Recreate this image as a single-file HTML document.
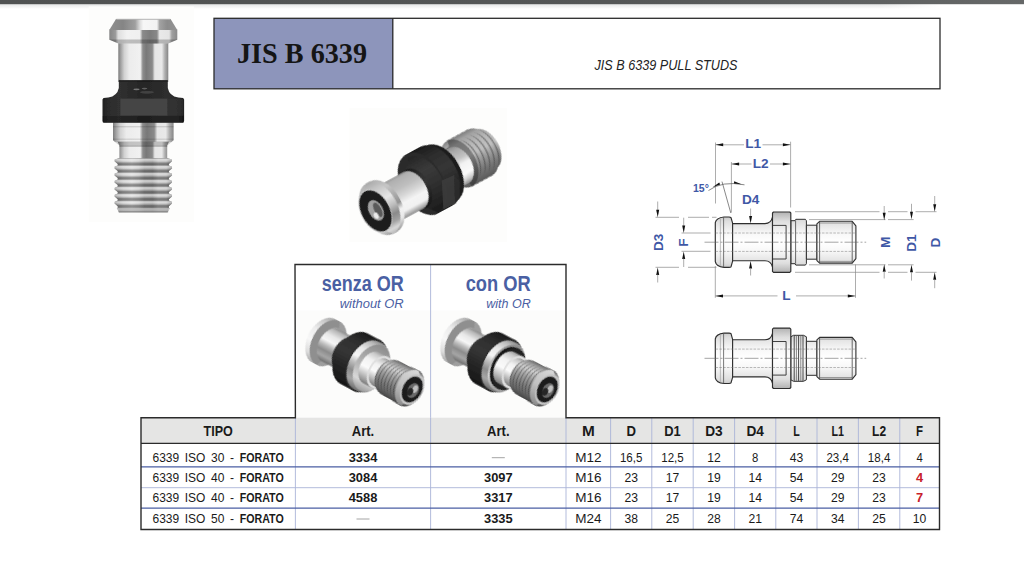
<!DOCTYPE html>
<html><head><meta charset="utf-8"><title>JIS B 6339 Pull Studs</title>
<style>html,body{margin:0;padding:0;background:#fff;overflow:hidden}svg{display:block}</style></head>
<body><svg width="1024" height="577" viewBox="0 0 1024 577">
<rect width="1024" height="577" fill="#ffffff"/>
<defs><linearGradient id="topbar" x1="0" x2="1" y1="0" y2="0"><stop offset="0" stop-color="#505252"/><stop offset="0.6" stop-color="#555757"/><stop offset="1" stop-color="#666868"/></linearGradient><linearGradient id="topsh" x1="0" x2="0" y1="0" y2="1"><stop offset="0" stop-color="#d8dada"/><stop offset="1" stop-color="#ffffff"/></linearGradient></defs>
<rect x="0" y="4" width="880" height="5" fill="url(#topsh)" opacity="0.7"/>
<linearGradient id="topfade" x1="0" x2="1" y1="0" y2="0"><stop offset="0" stop-color="#fff" stop-opacity="0"/><stop offset="1" stop-color="#fff" stop-opacity="1"/></linearGradient>
<rect x="880" y="4" width="60" height="5" fill="url(#topsh)" opacity="0.7"/><rect x="880" y="4" width="60" height="5" fill="url(#topfade)"/>
<rect x="0" y="0" width="1024" height="4.2" fill="url(#topbar)"/>
<rect x="214" y="18.3" width="179" height="70.5" fill="#8d95bb"/>
<rect x="214" y="18.3" width="726" height="70.5" fill="none" stroke="#2b2b2b" stroke-width="1.3"/>
<line x1="392.8" y1="18.3" x2="392.8" y2="88.8" stroke="#2b2b2b" stroke-width="1.3"/>
<text x="302" y="63" font-family="Liberation Serif, serif" font-size="28.5" font-weight="bold" font-style="normal" fill="#151515" text-anchor="middle" textLength="130" lengthAdjust="spacingAndGlyphs" >JIS B 6339</text>
<text x="666" y="69.9" font-family="Liberation Sans, sans-serif" font-size="14" font-weight="normal" font-style="italic" fill="#222" text-anchor="middle" textLength="143" lengthAdjust="spacingAndGlyphs" >JIS B 6339 PULL STUDS</text>
<rect x="296" y="310.5" width="269.5" height="107.2" fill="#fcfcfb"/>
<rect x="141" y="417.7" width="798.5" height="25.600000000000023" fill="#e5e5e4"/>
<line x1="295.4" y1="417.7" x2="295.4" y2="529.5" stroke="#aab4d8" stroke-width="0.9"/>
<line x1="430.6" y1="417.7" x2="430.6" y2="529.5" stroke="#aab4d8" stroke-width="0.9"/>
<line x1="566" y1="417.7" x2="566" y2="529.5" stroke="#aab4d8" stroke-width="0.9"/>
<line x1="610.6" y1="417.7" x2="610.6" y2="529.5" stroke="#aab4d8" stroke-width="0.9"/>
<line x1="651.8" y1="417.7" x2="651.8" y2="529.5" stroke="#aab4d8" stroke-width="0.9"/>
<line x1="693.2" y1="417.7" x2="693.2" y2="529.5" stroke="#aab4d8" stroke-width="0.9"/>
<line x1="734.6" y1="417.7" x2="734.6" y2="529.5" stroke="#aab4d8" stroke-width="0.9"/>
<line x1="775.8" y1="417.7" x2="775.8" y2="529.5" stroke="#aab4d8" stroke-width="0.9"/>
<line x1="817" y1="417.7" x2="817" y2="529.5" stroke="#aab4d8" stroke-width="0.9"/>
<line x1="858.4" y1="417.7" x2="858.4" y2="529.5" stroke="#aab4d8" stroke-width="0.9"/>
<line x1="899.8" y1="417.7" x2="899.8" y2="529.5" stroke="#aab4d8" stroke-width="0.9"/>
<line x1="430.6" y1="264.5" x2="430.6" y2="417.7" stroke="#aab4d8" stroke-width="0.9"/>
<line x1="141" y1="466.9" x2="939.5" y2="466.9" stroke="#4a5ea3" stroke-width="1.3"/>
<line x1="141" y1="487.7" x2="939.5" y2="487.7" stroke="#aab4d8" stroke-width="0.9"/>
<line x1="141" y1="508.2" x2="939.5" y2="508.2" stroke="#4a5ea3" stroke-width="1.3"/>
<line x1="141" y1="443.3" x2="939.5" y2="443.3" stroke="#2b2b2b" stroke-width="1.3"/>
<path d="M295.4 417.7 H141 V529.5 H939.5 V417.7 H566 V264.5 H295.0 Z" fill="none" stroke="#2b2b2b" stroke-width="1.4" stroke-linejoin="miter"/>
<text x="362.8" y="291.4" font-family="Liberation Sans, sans-serif" font-size="21.5" font-weight="bold" font-style="normal" fill="#4a60a3" text-anchor="middle" textLength="82" lengthAdjust="spacingAndGlyphs" >senza OR</text>
<text x="371.7" y="308.1" font-family="Liberation Sans, sans-serif" font-size="12.8" font-weight="normal" font-style="italic" fill="#4a60a3" text-anchor="middle" textLength="64" lengthAdjust="spacingAndGlyphs" >without OR</text>
<text x="498.2" y="291.4" font-family="Liberation Sans, sans-serif" font-size="21.5" font-weight="bold" font-style="normal" fill="#4a60a3" text-anchor="middle" textLength="65" lengthAdjust="spacingAndGlyphs" >con OR</text>
<text x="508.5" y="308.1" font-family="Liberation Sans, sans-serif" font-size="12.8" font-weight="normal" font-style="italic" fill="#4a60a3" text-anchor="middle" textLength="44.5" lengthAdjust="spacingAndGlyphs" >with OR</text>
<text x="218.2" y="435.5" font-family="Liberation Sans, sans-serif" font-size="14" font-weight="bold" font-style="normal" fill="#1a1a1a" text-anchor="middle" textLength="29.3" lengthAdjust="spacingAndGlyphs" >TIPO</text>
<text x="363.0" y="435.5" font-family="Liberation Sans, sans-serif" font-size="14" font-weight="bold" font-style="normal" fill="#1a1a1a" text-anchor="middle" textLength="22.5" lengthAdjust="spacingAndGlyphs" >Art.</text>
<text x="498.3" y="435.5" font-family="Liberation Sans, sans-serif" font-size="14" font-weight="bold" font-style="normal" fill="#1a1a1a" text-anchor="middle" textLength="22.5" lengthAdjust="spacingAndGlyphs" >Art.</text>
<text x="588.3" y="435.5" font-family="Liberation Sans, sans-serif" font-size="14" font-weight="bold" font-style="normal" fill="#1a1a1a" text-anchor="middle" textLength="12.8" lengthAdjust="spacingAndGlyphs" >M</text>
<text x="631.2" y="435.5" font-family="Liberation Sans, sans-serif" font-size="14" font-weight="bold" font-style="normal" fill="#1a1a1a" text-anchor="middle" textLength="9.5" lengthAdjust="spacingAndGlyphs" >D</text>
<text x="672.5" y="435.5" font-family="Liberation Sans, sans-serif" font-size="14" font-weight="bold" font-style="normal" fill="#1a1a1a" text-anchor="middle" textLength="16.5" lengthAdjust="spacingAndGlyphs" >D1</text>
<text x="713.9" y="435.5" font-family="Liberation Sans, sans-serif" font-size="14" font-weight="bold" font-style="normal" fill="#1a1a1a" text-anchor="middle" textLength="17.5" lengthAdjust="spacingAndGlyphs" >D3</text>
<text x="755.2" y="435.5" font-family="Liberation Sans, sans-serif" font-size="14" font-weight="bold" font-style="normal" fill="#1a1a1a" text-anchor="middle" textLength="17.5" lengthAdjust="spacingAndGlyphs" >D4</text>
<text x="796.4" y="435.5" font-family="Liberation Sans, sans-serif" font-size="14" font-weight="bold" font-style="normal" fill="#1a1a1a" text-anchor="middle" textLength="6.5" lengthAdjust="spacingAndGlyphs" >L</text>
<text x="837.7" y="435.5" font-family="Liberation Sans, sans-serif" font-size="14" font-weight="bold" font-style="normal" fill="#1a1a1a" text-anchor="middle" textLength="12.5" lengthAdjust="spacingAndGlyphs" >L1</text>
<text x="879.1" y="435.5" font-family="Liberation Sans, sans-serif" font-size="14" font-weight="bold" font-style="normal" fill="#1a1a1a" text-anchor="middle" textLength="14" lengthAdjust="spacingAndGlyphs" >L2</text>
<text x="919.6" y="435.5" font-family="Liberation Sans, sans-serif" font-size="14" font-weight="bold" font-style="normal" fill="#1a1a1a" text-anchor="middle" textLength="7" lengthAdjust="spacingAndGlyphs" >F</text>
<text x="152.5" y="461.8" font-family="Liberation Sans, sans-serif" font-size="12.6" fill="#1a1a1a" textLength="81.5" lengthAdjust="spacingAndGlyphs" word-spacing="2.4" xml:space="preserve">6339 ISO 30 -</text>
<text x="239.7" y="461.8" font-family="Liberation Sans, sans-serif" font-size="12.6" font-weight="bold" fill="#1a1a1a" textLength="44" lengthAdjust="spacingAndGlyphs">FORATO</text>
<text x="363.0" y="461.8" font-family="Liberation Sans, sans-serif" font-size="12.8" font-weight="bold" font-style="normal" fill="#1a1a1a" text-anchor="middle" textLength="28.6" lengthAdjust="spacingAndGlyphs" >3334</text>
<line x1="491.8" y1="457.7" x2="504.8" y2="457.7" stroke="#9a9a9a" stroke-width="0.9"/>
<text x="588.3" y="461.8" font-family="Liberation Sans, sans-serif" font-size="12.5" font-weight="normal" font-style="normal" fill="#1a1a1a" text-anchor="middle" textLength="26.3" lengthAdjust="spacingAndGlyphs" >M12</text>
<text x="631.2" y="461.8" font-family="Liberation Sans, sans-serif" font-size="12.5" font-weight="normal" font-style="normal" fill="#1a1a1a" text-anchor="middle" textLength="22.5" lengthAdjust="spacingAndGlyphs" >16,5</text>
<text x="672.5" y="461.8" font-family="Liberation Sans, sans-serif" font-size="12.5" font-weight="normal" font-style="normal" fill="#1a1a1a" text-anchor="middle" textLength="22.5" lengthAdjust="spacingAndGlyphs" >12,5</text>
<text x="713.9" y="461.8" font-family="Liberation Sans, sans-serif" font-size="12.5" font-weight="normal" font-style="normal" fill="#1a1a1a" text-anchor="middle" textLength="13.5" lengthAdjust="spacingAndGlyphs" >12</text>
<text x="755.2" y="461.8" font-family="Liberation Sans, sans-serif" font-size="12.5" font-weight="normal" font-style="normal" fill="#1a1a1a" text-anchor="middle" textLength="6.3" lengthAdjust="spacingAndGlyphs" >8</text>
<text x="796.4" y="461.8" font-family="Liberation Sans, sans-serif" font-size="12.5" font-weight="normal" font-style="normal" fill="#1a1a1a" text-anchor="middle" textLength="13.5" lengthAdjust="spacingAndGlyphs" >43</text>
<text x="837.7" y="461.8" font-family="Liberation Sans, sans-serif" font-size="12.5" font-weight="normal" font-style="normal" fill="#1a1a1a" text-anchor="middle" textLength="22.5" lengthAdjust="spacingAndGlyphs" >23,4</text>
<text x="879.1" y="461.8" font-family="Liberation Sans, sans-serif" font-size="12.5" font-weight="normal" font-style="normal" fill="#1a1a1a" text-anchor="middle" textLength="22.5" lengthAdjust="spacingAndGlyphs" >18,4</text>
<text x="919.6" y="461.8" font-family="Liberation Sans, sans-serif" font-size="12.5" font-weight="normal" font-style="normal" fill="#1a1a1a" text-anchor="middle" textLength="6.3" lengthAdjust="spacingAndGlyphs" >4</text>
<text x="152.5" y="482.1" font-family="Liberation Sans, sans-serif" font-size="12.6" fill="#1a1a1a" textLength="81.5" lengthAdjust="spacingAndGlyphs" word-spacing="2.4" xml:space="preserve">6339 ISO 40 -</text>
<text x="239.7" y="482.1" font-family="Liberation Sans, sans-serif" font-size="12.6" font-weight="bold" fill="#1a1a1a" textLength="44" lengthAdjust="spacingAndGlyphs">FORATO</text>
<text x="363.0" y="482.1" font-family="Liberation Sans, sans-serif" font-size="12.8" font-weight="bold" font-style="normal" fill="#1a1a1a" text-anchor="middle" textLength="28.6" lengthAdjust="spacingAndGlyphs" >3084</text>
<text x="498.3" y="482.1" font-family="Liberation Sans, sans-serif" font-size="12.8" font-weight="bold" font-style="normal" fill="#1a1a1a" text-anchor="middle" textLength="28.6" lengthAdjust="spacingAndGlyphs" >3097</text>
<text x="588.3" y="482.1" font-family="Liberation Sans, sans-serif" font-size="12.5" font-weight="normal" font-style="normal" fill="#1a1a1a" text-anchor="middle" textLength="26.3" lengthAdjust="spacingAndGlyphs" >M16</text>
<text x="631.2" y="482.1" font-family="Liberation Sans, sans-serif" font-size="12.5" font-weight="normal" font-style="normal" fill="#1a1a1a" text-anchor="middle" textLength="13.5" lengthAdjust="spacingAndGlyphs" >23</text>
<text x="672.5" y="482.1" font-family="Liberation Sans, sans-serif" font-size="12.5" font-weight="normal" font-style="normal" fill="#1a1a1a" text-anchor="middle" textLength="13.5" lengthAdjust="spacingAndGlyphs" >17</text>
<text x="713.9" y="482.1" font-family="Liberation Sans, sans-serif" font-size="12.5" font-weight="normal" font-style="normal" fill="#1a1a1a" text-anchor="middle" textLength="13.5" lengthAdjust="spacingAndGlyphs" >19</text>
<text x="755.2" y="482.1" font-family="Liberation Sans, sans-serif" font-size="12.5" font-weight="normal" font-style="normal" fill="#1a1a1a" text-anchor="middle" textLength="13.5" lengthAdjust="spacingAndGlyphs" >14</text>
<text x="796.4" y="482.1" font-family="Liberation Sans, sans-serif" font-size="12.5" font-weight="normal" font-style="normal" fill="#1a1a1a" text-anchor="middle" textLength="13.5" lengthAdjust="spacingAndGlyphs" >54</text>
<text x="837.7" y="482.1" font-family="Liberation Sans, sans-serif" font-size="12.5" font-weight="normal" font-style="normal" fill="#1a1a1a" text-anchor="middle" textLength="13.5" lengthAdjust="spacingAndGlyphs" >29</text>
<text x="879.1" y="482.1" font-family="Liberation Sans, sans-serif" font-size="12.5" font-weight="normal" font-style="normal" fill="#1a1a1a" text-anchor="middle" textLength="13.5" lengthAdjust="spacingAndGlyphs" >23</text>
<text x="919.6" y="482.1" font-family="Liberation Sans, sans-serif" font-size="12.8" font-weight="bold" font-style="normal" fill="#c8202a" text-anchor="middle" >4</text>
<text x="152.5" y="502.4" font-family="Liberation Sans, sans-serif" font-size="12.6" fill="#1a1a1a" textLength="81.5" lengthAdjust="spacingAndGlyphs" word-spacing="2.4" xml:space="preserve">6339 ISO 40 -</text>
<text x="239.7" y="502.4" font-family="Liberation Sans, sans-serif" font-size="12.6" font-weight="bold" fill="#1a1a1a" textLength="44" lengthAdjust="spacingAndGlyphs">FORATO</text>
<text x="363.0" y="502.4" font-family="Liberation Sans, sans-serif" font-size="12.8" font-weight="bold" font-style="normal" fill="#1a1a1a" text-anchor="middle" textLength="28.6" lengthAdjust="spacingAndGlyphs" >4588</text>
<text x="498.3" y="502.4" font-family="Liberation Sans, sans-serif" font-size="12.8" font-weight="bold" font-style="normal" fill="#1a1a1a" text-anchor="middle" textLength="28.6" lengthAdjust="spacingAndGlyphs" >3317</text>
<text x="588.3" y="502.4" font-family="Liberation Sans, sans-serif" font-size="12.5" font-weight="normal" font-style="normal" fill="#1a1a1a" text-anchor="middle" textLength="26.3" lengthAdjust="spacingAndGlyphs" >M16</text>
<text x="631.2" y="502.4" font-family="Liberation Sans, sans-serif" font-size="12.5" font-weight="normal" font-style="normal" fill="#1a1a1a" text-anchor="middle" textLength="13.5" lengthAdjust="spacingAndGlyphs" >23</text>
<text x="672.5" y="502.4" font-family="Liberation Sans, sans-serif" font-size="12.5" font-weight="normal" font-style="normal" fill="#1a1a1a" text-anchor="middle" textLength="13.5" lengthAdjust="spacingAndGlyphs" >17</text>
<text x="713.9" y="502.4" font-family="Liberation Sans, sans-serif" font-size="12.5" font-weight="normal" font-style="normal" fill="#1a1a1a" text-anchor="middle" textLength="13.5" lengthAdjust="spacingAndGlyphs" >19</text>
<text x="755.2" y="502.4" font-family="Liberation Sans, sans-serif" font-size="12.5" font-weight="normal" font-style="normal" fill="#1a1a1a" text-anchor="middle" textLength="13.5" lengthAdjust="spacingAndGlyphs" >14</text>
<text x="796.4" y="502.4" font-family="Liberation Sans, sans-serif" font-size="12.5" font-weight="normal" font-style="normal" fill="#1a1a1a" text-anchor="middle" textLength="13.5" lengthAdjust="spacingAndGlyphs" >54</text>
<text x="837.7" y="502.4" font-family="Liberation Sans, sans-serif" font-size="12.5" font-weight="normal" font-style="normal" fill="#1a1a1a" text-anchor="middle" textLength="13.5" lengthAdjust="spacingAndGlyphs" >29</text>
<text x="879.1" y="502.4" font-family="Liberation Sans, sans-serif" font-size="12.5" font-weight="normal" font-style="normal" fill="#1a1a1a" text-anchor="middle" textLength="13.5" lengthAdjust="spacingAndGlyphs" >23</text>
<text x="919.6" y="502.4" font-family="Liberation Sans, sans-serif" font-size="12.8" font-weight="bold" font-style="normal" fill="#c8202a" text-anchor="middle" >7</text>
<text x="152.5" y="523.1" font-family="Liberation Sans, sans-serif" font-size="12.6" fill="#1a1a1a" textLength="81.5" lengthAdjust="spacingAndGlyphs" word-spacing="2.4" xml:space="preserve">6339 ISO 50 -</text>
<text x="239.7" y="523.1" font-family="Liberation Sans, sans-serif" font-size="12.6" font-weight="bold" fill="#1a1a1a" textLength="44" lengthAdjust="spacingAndGlyphs">FORATO</text>
<line x1="356.5" y1="519.0" x2="369.5" y2="519.0" stroke="#9a9a9a" stroke-width="0.9"/>
<text x="498.3" y="523.1" font-family="Liberation Sans, sans-serif" font-size="12.8" font-weight="bold" font-style="normal" fill="#1a1a1a" text-anchor="middle" textLength="28.6" lengthAdjust="spacingAndGlyphs" >3335</text>
<text x="588.3" y="523.1" font-family="Liberation Sans, sans-serif" font-size="12.5" font-weight="normal" font-style="normal" fill="#1a1a1a" text-anchor="middle" textLength="26.3" lengthAdjust="spacingAndGlyphs" >M24</text>
<text x="631.2" y="523.1" font-family="Liberation Sans, sans-serif" font-size="12.5" font-weight="normal" font-style="normal" fill="#1a1a1a" text-anchor="middle" textLength="13.5" lengthAdjust="spacingAndGlyphs" >38</text>
<text x="672.5" y="523.1" font-family="Liberation Sans, sans-serif" font-size="12.5" font-weight="normal" font-style="normal" fill="#1a1a1a" text-anchor="middle" textLength="13.5" lengthAdjust="spacingAndGlyphs" >25</text>
<text x="713.9" y="523.1" font-family="Liberation Sans, sans-serif" font-size="12.5" font-weight="normal" font-style="normal" fill="#1a1a1a" text-anchor="middle" textLength="13.5" lengthAdjust="spacingAndGlyphs" >28</text>
<text x="755.2" y="523.1" font-family="Liberation Sans, sans-serif" font-size="12.5" font-weight="normal" font-style="normal" fill="#1a1a1a" text-anchor="middle" textLength="13.5" lengthAdjust="spacingAndGlyphs" >21</text>
<text x="796.4" y="523.1" font-family="Liberation Sans, sans-serif" font-size="12.5" font-weight="normal" font-style="normal" fill="#1a1a1a" text-anchor="middle" textLength="13.5" lengthAdjust="spacingAndGlyphs" >74</text>
<text x="837.7" y="523.1" font-family="Liberation Sans, sans-serif" font-size="12.5" font-weight="normal" font-style="normal" fill="#1a1a1a" text-anchor="middle" textLength="13.5" lengthAdjust="spacingAndGlyphs" >34</text>
<text x="879.1" y="523.1" font-family="Liberation Sans, sans-serif" font-size="12.5" font-weight="normal" font-style="normal" fill="#1a1a1a" text-anchor="middle" textLength="13.5" lengthAdjust="spacingAndGlyphs" >25</text>
<text x="919.6" y="523.1" font-family="Liberation Sans, sans-serif" font-size="12.5" font-weight="normal" font-style="normal" fill="#1a1a1a" text-anchor="middle" textLength="13.5" lengthAdjust="spacingAndGlyphs" >10</text>
<g id="tech">
<defs>
<linearGradient id="tg1" gradientUnits="userSpaceOnUse" x1="0" y1="211.2" x2="0" y2="273.2"><stop offset="0" stop-color="#aeaeae"/><stop offset="0.16" stop-color="#dedede"/><stop offset="0.36" stop-color="#f8f8f8"/><stop offset="0.5" stop-color="#ffffff"/><stop offset="0.64" stop-color="#f8f8f8"/><stop offset="0.84" stop-color="#dedede"/><stop offset="1" stop-color="#aeaeae"/></linearGradient>
<linearGradient id="tg2" gradientUnits="userSpaceOnUse" x1="0" y1="327.3" x2="0" y2="389.3"><stop offset="0" stop-color="#aeaeae"/><stop offset="0.16" stop-color="#dedede"/><stop offset="0.36" stop-color="#f8f8f8"/><stop offset="0.5" stop-color="#ffffff"/><stop offset="0.64" stop-color="#f8f8f8"/><stop offset="0.84" stop-color="#dedede"/><stop offset="1" stop-color="#aeaeae"/></linearGradient>
</defs>
<line x1="715.5" y1="142.5" x2="715.5" y2="203.5" stroke="#8a8a8a" stroke-width="0.7" />
<line x1="790.6" y1="141.7" x2="790.6" y2="207.5" stroke="#8a8a8a" stroke-width="0.7" />
<line x1="715.5" y1="144.8" x2="744" y2="144.8" stroke="#8a8a8a" stroke-width="0.7" />
<line x1="762.5" y1="144.8" x2="790.6" y2="144.8" stroke="#8a8a8a" stroke-width="0.7" />
<polygon points="715.7,144.8 723.2,143.3 723.2,146.3" fill="#111"/>
<polygon points="790.4,144.8 782.9,143.3 782.9,146.3" fill="#111"/>
<text x="753.1" y="148.2" font-family="Liberation Sans, sans-serif" font-size="13.6" font-weight="bold" fill="#3f58a6" text-anchor="middle">L1</text>
<line x1="731.4" y1="162" x2="731.4" y2="212.5" stroke="#8a8a8a" stroke-width="0.7" />
<line x1="731.4" y1="164" x2="751.5" y2="164" stroke="#8a8a8a" stroke-width="0.7" />
<line x1="770" y1="164" x2="790.6" y2="164" stroke="#8a8a8a" stroke-width="0.7" />
<polygon points="731.6,164.0 739.1,162.5 739.1,165.5" fill="#111"/>
<polygon points="790.4,164.0 782.9,162.5 782.9,165.5" fill="#111"/>
<text x="760.7" y="167.6" font-family="Liberation Sans, sans-serif" font-size="13.6" font-weight="bold" fill="#3f58a6" text-anchor="middle">L2</text>
<path d="M708.5 190.5 Q722 180.5 744.5 184.8" fill="none" stroke="#555" stroke-width="0.7"/>
<line x1="722" y1="181.6" x2="730.8" y2="213" stroke="#555" stroke-width="0.7" />
<polygon points="712.6,187.2 719.2,182.6 720.2,184.6" fill="#111"/>
<polygon points="741.5,184.2 734.2,181.3 733.9,183.6" fill="#111"/>
<text x="700.9" y="191.8" font-family="Liberation Sans, sans-serif" font-size="10.5" font-weight="bold" fill="#3f58a6" text-anchor="middle">15°</text>
<text x="750.7" y="203.5" font-family="Liberation Sans, sans-serif" font-size="13.6" font-weight="bold" fill="#3f58a6" text-anchor="middle">D4</text>
<line x1="750.6" y1="208.5" x2="750.6" y2="216" stroke="#8a8a8a" stroke-width="0.7" />
<polygon points="750.6,223.4 749.1,215.9 752.1,215.9" fill="#111"/>
<polygon points="750.6,261.0 749.1,268.5 752.1,268.5" fill="#111"/>
<line x1="750.6" y1="268" x2="750.6" y2="275.5" stroke="#8a8a8a" stroke-width="0.7" />
<line x1="655.5" y1="217.3" x2="679" y2="217.3" stroke="#8a8a8a" stroke-width="0.7" />
<line x1="688" y1="217.3" x2="709" y2="217.3" stroke="#8a8a8a" stroke-width="0.7" />
<line x1="712" y1="217.3" x2="716.5" y2="217.3" stroke="#8a8a8a" stroke-width="0.7" />
<line x1="655.5" y1="267.3" x2="679" y2="267.3" stroke="#8a8a8a" stroke-width="0.7" />
<line x1="688" y1="267.3" x2="716.5" y2="267.3" stroke="#8a8a8a" stroke-width="0.7" />
<line x1="657.7" y1="201.5" x2="657.7" y2="210" stroke="#8a8a8a" stroke-width="0.7" />
<polygon points="657.7,217.2 656.2,209.7 659.2,209.7" fill="#111"/>
<polygon points="657.7,267.4 656.2,274.9 659.2,274.9" fill="#111"/>
<line x1="657.7" y1="274.5" x2="657.7" y2="282.5" stroke="#8a8a8a" stroke-width="0.7" />
<text x="662.8" y="242.3" font-family="Liberation Sans, sans-serif" font-size="13.6" font-weight="bold" fill="#3f58a6" text-anchor="middle" transform="rotate(-90 662.8 242.3)">D3</text>
<line x1="681.5" y1="233" x2="710.5" y2="233" stroke="#8a8a8a" stroke-width="0.7" />
<line x1="681.5" y1="251.3" x2="710.5" y2="251.3" stroke="#8a8a8a" stroke-width="0.7" />
<line x1="683.7" y1="217.7" x2="683.7" y2="226" stroke="#8a8a8a" stroke-width="0.7" />
<polygon points="683.7,232.9 682.2,225.4 685.2,225.4" fill="#111"/>
<polygon points="683.7,251.4 682.2,258.9 685.2,258.9" fill="#111"/>
<line x1="683.7" y1="258.5" x2="683.7" y2="267" stroke="#8a8a8a" stroke-width="0.7" />
<text x="687.9" y="242.5" font-family="Liberation Sans, sans-serif" font-size="13.6" font-weight="bold" fill="#3f58a6" text-anchor="middle" transform="rotate(-90 687.9 242.5)">F</text>
<line x1="795" y1="211.7" x2="879.5" y2="211.7" stroke="#8a8a8a" stroke-width="0.7" />
<line x1="888" y1="211.7" x2="907.5" y2="211.7" stroke="#8a8a8a" stroke-width="0.7" />
<line x1="915.5" y1="211.7" x2="936.5" y2="211.7" stroke="#8a8a8a" stroke-width="0.7" />
<line x1="809" y1="219.6" x2="885.5" y2="219.6" stroke="#8a8a8a" stroke-width="0.7" />
<line x1="888" y1="219.6" x2="913.6" y2="219.6" stroke="#8a8a8a" stroke-width="0.7" />
<line x1="809" y1="264.8" x2="885.5" y2="264.8" stroke="#8a8a8a" stroke-width="0.7" />
<line x1="888" y1="264.8" x2="913.6" y2="264.8" stroke="#8a8a8a" stroke-width="0.7" />
<line x1="795" y1="272.3" x2="879.5" y2="272.3" stroke="#8a8a8a" stroke-width="0.7" />
<line x1="888" y1="272.3" x2="907.5" y2="272.3" stroke="#8a8a8a" stroke-width="0.7" />
<line x1="915.5" y1="272.3" x2="936.5" y2="272.3" stroke="#8a8a8a" stroke-width="0.7" />
<line x1="884.2" y1="206" x2="884.2" y2="213" stroke="#8a8a8a" stroke-width="0.7" />
<polygon points="884.2,220.2 882.7,212.7 885.7,212.7" fill="#111"/>
<polygon points="884.2,264.2 882.7,271.7 885.7,271.7" fill="#111"/>
<line x1="884.2" y1="271" x2="884.2" y2="278.5" stroke="#8a8a8a" stroke-width="0.7" />
<text x="889.7" y="242.3" font-family="Liberation Sans, sans-serif" font-size="13.6" font-weight="bold" fill="#3f58a6" text-anchor="middle" transform="rotate(-90 889.7 242.3)">M</text>
<line x1="911.5" y1="203.8" x2="911.5" y2="212" stroke="#8a8a8a" stroke-width="0.7" />
<polygon points="911.5,219.2 910.0,211.7 913.0,211.7" fill="#111"/>
<polygon points="911.5,264.8 910.0,272.3 913.0,272.3" fill="#111"/>
<line x1="911.5" y1="272" x2="911.5" y2="280.6" stroke="#8a8a8a" stroke-width="0.7" />
<text x="916.1" y="243" font-family="Liberation Sans, sans-serif" font-size="13.6" font-weight="bold" fill="#3f58a6" text-anchor="middle" transform="rotate(-90 916.1 243)">D1</text>
<line x1="934.7" y1="196" x2="934.7" y2="204.5" stroke="#8a8a8a" stroke-width="0.7" />
<polygon points="934.7,211.7 933.2,204.2 936.2,204.2" fill="#111"/>
<polygon points="934.7,272.3 933.2,279.8 936.2,279.8" fill="#111"/>
<line x1="934.7" y1="279.5" x2="934.7" y2="288.2" stroke="#8a8a8a" stroke-width="0.7" />
<text x="939.6" y="242.5" font-family="Liberation Sans, sans-serif" font-size="13.6" font-weight="bold" fill="#3f58a6" text-anchor="middle" transform="rotate(-90 939.6 242.5)">D</text>
<line x1="715.3" y1="266" x2="715.3" y2="297.8" stroke="#8a8a8a" stroke-width="0.7" />
<line x1="855.5" y1="264.5" x2="855.5" y2="297.8" stroke="#8a8a8a" stroke-width="0.7" />
<line x1="715.3" y1="295.9" x2="777.5" y2="295.9" stroke="#8a8a8a" stroke-width="0.7" />
<line x1="796" y1="295.9" x2="855.5" y2="295.9" stroke="#8a8a8a" stroke-width="0.7" />
<polygon points="715.5,295.9 723.0,294.4 723.0,297.4" fill="#111"/>
<polygon points="855.3,295.9 847.8,294.4 847.8,297.4" fill="#111"/>
<text x="786.4" y="300" font-family="Liberation Sans, sans-serif" font-size="13.6" font-weight="bold" fill="#3f58a6" text-anchor="middle">L</text>

<path d="M731.5 223.6 H765 Q771 223.6 772.5 217.2 V267.2 Q771 260.8 765 260.8 H731.5 Z" fill="url(#tg1)" stroke="#2e2e2e" stroke-width="1.1"/>
<path d="M732.6 223.2 L731 217.6 Q730.5 217.0 729 217.0 H724 Q716.2 217.7 715.3 222.7 V261.7 Q716.2 266.7 724 267.4 H729 Q730.5 267.4 731 266.8 L732.6 261.2 Z" fill="url(#tg1)" stroke="#2e2e2e" stroke-width="1.15" stroke-linejoin="round"/>
<line x1="723.6" y1="217.2" x2="723.6" y2="267.2" stroke="#555" stroke-width="0.8" />
<line x1="720.4" y1="218.7" x2="720.4" y2="265.7" stroke="#999" stroke-width="0.6" />
<polygon points="790.8,220.7 795.0,220.7 795.8,219.3 805.4,219.3 806.4,220.7 806.4,263.7 805.4,265.1 795.8,265.1 795.0,263.7 790.8,263.7" fill="url(#tg1)" stroke="#2e2e2e" stroke-width="1.0" stroke-linejoin="round"/>
<line x1="795.6" y1="220.7" x2="795.6" y2="263.7" stroke="#444" stroke-width="0.8" />
<polygon points="806.4,225.2 817.0,225.2 817.0,259.2 806.4,259.2" fill="url(#tg1)" stroke="#2e2e2e" stroke-width="1.0" stroke-linejoin="round"/>
<polygon points="816.9,223.8 819.6,221.3 852.2,221.3 855.9,225.8 855.9,258.6 852.2,263.1 819.6,263.1 816.9,260.6" fill="url(#tg1)" stroke="#2e2e2e" stroke-width="1.1" stroke-linejoin="round"/>
<line x1="819.6" y1="221.29999999999998" x2="819.6" y2="263.09999999999997" stroke="#444" stroke-width="0.8" />
<line x1="852.2" y1="221.29999999999998" x2="852.2" y2="263.09999999999997" stroke="#444" stroke-width="0.8" />
<line x1="819.6" y1="223.0" x2="852.2" y2="223.0" stroke="#666" stroke-width="0.6" />
<line x1="819.6" y1="261.4" x2="852.2" y2="261.4" stroke="#666" stroke-width="0.6" />
<polygon points="772.5,213.0 773.5,212.0 789.8,212.0 790.8,213.0 790.8,271.4 789.8,272.4 773.5,272.4 772.5,271.4" fill="url(#tg1)" stroke="#2e2e2e" stroke-width="1.15" stroke-linejoin="round"/>
<path d="M772.5 225.39999999999998 H786.1 V259.0 H772.5" fill="none" stroke="#2e2e2e" stroke-width="0.9"/>
<line x1="704.5" y1="242.2" x2="866.2" y2="242.2" stroke="#666" stroke-width="0.6" stroke-dasharray="14 2 2 2"/>
<line x1="715.5" y1="233.0" x2="856" y2="233.0" stroke="#777" stroke-width="0.5" stroke-dasharray="2.6 1.2"/>
<line x1="715.5" y1="251.39999999999998" x2="856" y2="251.39999999999998" stroke="#777" stroke-width="0.5" stroke-dasharray="2.6 1.2"/>

<path d="M731.5 339.7 H765 Q771 339.7 772.5 333.3 V383.3 Q771 376.90000000000003 765 376.90000000000003 H731.5 Z" fill="url(#tg2)" stroke="#2e2e2e" stroke-width="1.1"/>
<path d="M732.6 339.3 L731 333.7 Q730.5 333.1 729 333.1 H724 Q716.2 333.8 715.3 338.8 V377.8 Q716.2 382.8 724 383.5 H729 Q730.5 383.5 731 382.90000000000003 L732.6 377.3 Z" fill="url(#tg2)" stroke="#2e2e2e" stroke-width="1.15" stroke-linejoin="round"/>
<line x1="723.6" y1="333.3" x2="723.6" y2="383.3" stroke="#555" stroke-width="0.8" />
<line x1="720.4" y1="334.8" x2="720.4" y2="381.8" stroke="#999" stroke-width="0.6" />
<polygon points="790.8,336.8 793.5,335.3 803.5,335.3 806.4,336.8 806.4,379.8 803.5,381.3 793.5,381.3 790.8,379.8" fill="url(#tg2)" stroke="#2e2e2e" stroke-width="1.0" stroke-linejoin="round"/>
<line x1="794.2" y1="335.7" x2="794.2" y2="380.90000000000003" stroke="#333" stroke-width="0.9" />
<line x1="796.4" y1="335.7" x2="796.4" y2="380.90000000000003" stroke="#777" stroke-width="0.9" />
<line x1="798.6" y1="335.7" x2="798.6" y2="380.90000000000003" stroke="#333" stroke-width="0.9" />
<line x1="800.8" y1="335.7" x2="800.8" y2="380.90000000000003" stroke="#777" stroke-width="0.9" />
<line x1="803" y1="335.7" x2="803" y2="380.90000000000003" stroke="#333" stroke-width="0.9" />
<polygon points="806.4,341.3 817.0,341.3 817.0,375.3 806.4,375.3" fill="url(#tg2)" stroke="#2e2e2e" stroke-width="1.0" stroke-linejoin="round"/>
<polygon points="816.9,339.9 819.6,337.4 852.2,337.4 855.9,341.9 855.9,374.7 852.2,379.2 819.6,379.2 816.9,376.7" fill="url(#tg2)" stroke="#2e2e2e" stroke-width="1.1" stroke-linejoin="round"/>
<line x1="819.6" y1="337.40000000000003" x2="819.6" y2="379.2" stroke="#444" stroke-width="0.8" />
<line x1="852.2" y1="337.40000000000003" x2="852.2" y2="379.2" stroke="#444" stroke-width="0.8" />
<line x1="819.6" y1="339.1" x2="852.2" y2="339.1" stroke="#666" stroke-width="0.6" />
<line x1="819.6" y1="377.5" x2="852.2" y2="377.5" stroke="#666" stroke-width="0.6" />
<polygon points="772.5,329.1 773.5,328.1 789.8,328.1 790.8,329.1 790.8,387.5 789.8,388.5 773.5,388.5 772.5,387.5" fill="url(#tg2)" stroke="#2e2e2e" stroke-width="1.15" stroke-linejoin="round"/>
<path d="M772.5 341.5 H786.1 V375.1 H772.5" fill="none" stroke="#2e2e2e" stroke-width="0.9"/>
<line x1="704.5" y1="358.3" x2="866.2" y2="358.3" stroke="#666" stroke-width="0.6" stroke-dasharray="14 2 2 2"/>
<line x1="715.5" y1="349.1" x2="856" y2="349.1" stroke="#777" stroke-width="0.5" stroke-dasharray="2.6 1.2"/>
<line x1="715.5" y1="367.5" x2="856" y2="367.5" stroke="#777" stroke-width="0.5" stroke-dasharray="2.6 1.2"/>
</g>
<g id="photo">
<defs>
<linearGradient id="pm_neck" gradientUnits="userSpaceOnUse" x1="118.30000000000001" y1="0" x2="168.3" y2="0"><stop offset="0" stop-color="#7d7d7d"/><stop offset="0.05" stop-color="#a2a2a2"/><stop offset="0.12" stop-color="#d2d2d2"/><stop offset="0.22" stop-color="#ececec"/><stop offset="0.44" stop-color="#f1f1f1"/><stop offset="0.49" stop-color="#8c8c8c"/><stop offset="0.56" stop-color="#787878"/><stop offset="0.68" stop-color="#8a8a8a"/><stop offset="0.73" stop-color="#e6e6e6"/><stop offset="0.87" stop-color="#e9e9e9"/><stop offset="0.93" stop-color="#b0b0b0"/><stop offset="1" stop-color="#858585"/></linearGradient>
<linearGradient id="pm_head" gradientUnits="userSpaceOnUse" x1="109.30000000000001" y1="0" x2="177.3" y2="0"><stop offset="0" stop-color="#858585"/><stop offset="0.09" stop-color="#9a9a9a"/><stop offset="0.13" stop-color="#dedede"/><stop offset="0.26" stop-color="#f2f2f2"/><stop offset="0.45" stop-color="#f0f0f0"/><stop offset="0.49" stop-color="#8a8a8a"/><stop offset="0.6" stop-color="#7c7c7c"/><stop offset="0.7" stop-color="#888"/><stop offset="0.74" stop-color="#e9e9e9"/><stop offset="0.88" stop-color="#e4e4e4"/><stop offset="0.92" stop-color="#a0a0a0"/><stop offset="1" stop-color="#8a8a8a"/></linearGradient>
<linearGradient id="pm_cham" gradientUnits="userSpaceOnUse" x1="109.30000000000001" y1="0" x2="177.3" y2="0"><stop offset="0" stop-color="#8f8f8f"/><stop offset="0.2" stop-color="#858585"/><stop offset="0.38" stop-color="#9f9f9f"/><stop offset="0.45" stop-color="#dcdcdc"/><stop offset="0.5" stop-color="#f6f6f6"/><stop offset="0.7" stop-color="#f3f3f3"/><stop offset="0.74" stop-color="#a2a2a2"/><stop offset="0.85" stop-color="#8c8c8c"/><stop offset="1" stop-color="#939393"/></linearGradient>
<linearGradient id="pm_col" gradientUnits="userSpaceOnUse" x1="113.00000000000001" y1="0" x2="173.60000000000002" y2="0"><stop offset="0" stop-color="#7d7d7d"/><stop offset="0.05" stop-color="#a2a2a2"/><stop offset="0.12" stop-color="#d2d2d2"/><stop offset="0.22" stop-color="#ececec"/><stop offset="0.44" stop-color="#f1f1f1"/><stop offset="0.49" stop-color="#8c8c8c"/><stop offset="0.56" stop-color="#787878"/><stop offset="0.68" stop-color="#8a8a8a"/><stop offset="0.73" stop-color="#e6e6e6"/><stop offset="0.87" stop-color="#e9e9e9"/><stop offset="0.93" stop-color="#b0b0b0"/><stop offset="1" stop-color="#858585"/></linearGradient>
<linearGradient id="pm_thr" gradientUnits="userSpaceOnUse" x1="114.70000000000002" y1="0" x2="171.9" y2="0"><stop offset="0" stop-color="#7c7c7c"/><stop offset="0.05" stop-color="#a0a0a0"/><stop offset="0.15" stop-color="#c2c2c2"/><stop offset="0.3" stop-color="#d8d8d8"/><stop offset="0.42" stop-color="#c6c6c6"/><stop offset="0.52" stop-color="#a4a4a4"/><stop offset="0.66" stop-color="#9e9e9e"/><stop offset="0.76" stop-color="#c0c0c0"/><stop offset="0.9" stop-color="#bababa"/><stop offset="1" stop-color="#7e7e7e"/></linearGradient>
<linearGradient id="pm_blk" gradientUnits="userSpaceOnUse" x1="102.50000000000001" y1="0" x2="184.10000000000002" y2="0"><stop offset="0" stop-color="#1f1f1f"/><stop offset="0.08" stop-color="#2c2c2c"/><stop offset="0.2" stop-color="#303030"/><stop offset="0.5" stop-color="#262626"/><stop offset="0.8" stop-color="#2e2e2e"/><stop offset="0.93" stop-color="#2a2a2a"/><stop offset="1" stop-color="#1c1c1c"/></linearGradient>
<linearGradient id="pm_tp" x1="0" y1="0" x2="0" y2="1"><stop offset="0" stop-color="#fff" stop-opacity="0.65"/><stop offset="0.3" stop-color="#fff" stop-opacity="0.2"/><stop offset="0.55" stop-color="#000" stop-opacity="0.3"/><stop offset="0.82" stop-color="#000" stop-opacity="0.38"/><stop offset="1" stop-color="#fff" stop-opacity="0.3"/></linearGradient>
<pattern id="pm_pat" patternUnits="userSpaceOnUse" x="0" y="159.2" width="200" height="7.05"><rect width="200" height="7.05" fill="url(#pm_tp)"/></pattern>
<filter id="pblur" x="-5%" y="-5%" width="110%" height="110%"><feGaussianBlur stdDeviation="0.45"/></filter>
</defs>
<rect x="88.7" y="6.5" width="105.2" height="215.5" fill="#fdfdfc"/>
<g filter="url(#pblur)">
<polygon points="117.3,141.0 119.4,145.5 119.4,158.5 167.2,158.5 167.2,145.5 169.3,141.0" fill="url(#pm_neck)"/>
<polygon points="118.8,158.3 114.7,159.5 114.5,161.3 117.7,163.9 117.7,165.4 114.7,166.6 114.5,168.4 117.7,171.0 117.7,172.4 114.7,173.6 114.5,175.4 117.7,178.0 117.7,179.5 114.7,180.7 114.5,182.5 117.7,185.1 117.7,186.5 114.7,187.7 114.5,189.5 117.7,192.1 117.7,193.6 114.7,194.8 114.5,196.6 117.7,199.2 117.7,200.6 114.7,201.8 114.5,203.6 117.7,206.2 117.7,207.7 116.8,208.6 119.1,212.3 167.5,212.3 169.8,208.6 168.9,207.7 168.9,206.2 172.1,203.6 171.9,201.8 168.9,200.6 168.9,199.2 172.1,196.6 171.9,194.8 168.9,193.6 168.9,192.1 172.1,189.5 171.9,187.7 168.9,186.5 168.9,185.1 172.1,182.5 171.9,180.7 168.9,179.5 168.9,178.0 172.1,175.4 171.9,173.6 168.9,172.4 168.9,171.0 172.1,168.4 171.9,166.6 168.9,165.4 168.9,163.9 172.1,161.3 171.9,159.5 167.8,158.3" fill="url(#pm_thr)"/>
<polygon points="118.8,158.3 114.7,159.5 114.5,161.3 117.7,163.9 117.7,165.4 114.7,166.6 114.5,168.4 117.7,171.0 117.7,172.4 114.7,173.6 114.5,175.4 117.7,178.0 117.7,179.5 114.7,180.7 114.5,182.5 117.7,185.1 117.7,186.5 114.7,187.7 114.5,189.5 117.7,192.1 117.7,193.6 114.7,194.8 114.5,196.6 117.7,199.2 117.7,200.6 114.7,201.8 114.5,203.6 117.7,206.2 117.7,207.7 116.8,208.6 119.1,212.3 167.5,212.3 169.8,208.6 168.9,207.7 168.9,206.2 172.1,203.6 171.9,201.8 168.9,200.6 168.9,199.2 172.1,196.6 171.9,194.8 168.9,193.6 168.9,192.1 172.1,189.5 171.9,187.7 168.9,186.5 168.9,185.1 172.1,182.5 171.9,180.7 168.9,179.5 168.9,178.0 172.1,175.4 171.9,173.6 168.9,172.4 168.9,171.0 172.1,168.4 171.9,166.6 168.9,165.4 168.9,163.9 172.1,161.3 171.9,159.5 167.8,158.3" fill="url(#pm_pat)"/>
<rect x="118.30000000000001" y="208.2" width="50" height="4.1" fill="#9a9a9a" opacity="0.55"/>
<rect x="118.80000000000001" y="211.2" width="49" height="1.2" fill="#777" opacity="0.6"/>
<rect x="119.30000000000001" y="145.3" width="48" height="1.6" fill="#000" opacity="0.22"/>
<polygon points="113.0,122.0 113.0,140.2 114.8,141.8 171.8,141.8 173.6,140.2 173.6,122.0" fill="url(#pm_col)"/>
<rect x="113.00000000000001" y="126.2" width="60.6" height="1.1" fill="#000" opacity="0.16"/>
<rect x="113.00000000000001" y="138.6" width="60.6" height="1.2" fill="#000" opacity="0.13"/>
<polygon points="114.3,141.6 119.4,145.6 167.2,145.6 172.3,141.6" fill="#000" opacity="0.18"/>
<polygon points="118.3,42.0 118.3,82.0 168.3,82.0 168.3,42.0" fill="url(#pm_neck)"/>
<polygon points="109.3,29.6 109.3,39.8 118.3,43.6 168.3,43.6 177.3,39.8 177.3,29.6" fill="url(#pm_head)"/>
<polygon points="109.3,39.6 118.3,43.6 168.3,43.6 177.3,39.6" fill="#000" opacity="0.22"/>
<polygon points="116.0,19.1 109.3,30.0 177.3,30.0 170.6,19.1" fill="url(#pm_cham)"/>
<rect x="116.30000000000001" y="18.8" width="54" height="1" fill="#b5b5b5"/>
<path d="M118.80000000000001 80.2 H167.8 V88 Q169.3 96 178.3 97.6 L183.10000000000002 98 L184.10000000000002 99.5 V121.3 L183.10000000000002 122.8 H103.50000000000001 L102.50000000000001 121.3 V99.5 L103.50000000000001 98 L108.30000000000001 97.6 Q117.30000000000001 96 118.80000000000001 88 Z" fill="url(#pm_blk)"/>
<rect x="120.3" y="98.6" width="47.3" height="17" fill="#454545"/>
<rect x="102.6" y="116" width="81.4" height="6.8" fill="#000" opacity="0.22"/>
<rect x="167.3" y="98.6" width="16" height="17" fill="#343434" opacity="0.6"/>
<ellipse cx="136.5" cy="89.3" rx="3.2" ry="0.9" fill="#8a8a8a" opacity="0.8"/>
<ellipse cx="144.5" cy="88.6" rx="2.8" ry="0.8" fill="#777" opacity="0.7"/>
<ellipse cx="147" cy="92.3" rx="7" ry="1.4" fill="#4a4a4a" opacity="0.8"/>
<rect x="118.80000000000001" y="80.2" width="49" height="1.4" fill="#111" opacity="0.6"/>
</g></g>
<g id="iso">
<defs>
<linearGradient id="im_a" x1="0" y1="0" x2="0" y2="1"><stop offset="0" stop-color="#969696"/><stop offset="0.06" stop-color="#b0b0b0"/><stop offset="0.3" stop-color="#bfbfbf"/><stop offset="0.48" stop-color="#d6d6d6"/><stop offset="0.66" stop-color="#f4f4f4"/><stop offset="0.84" stop-color="#f1f1f1"/><stop offset="0.93" stop-color="#b8b8b8"/><stop offset="1" stop-color="#8e8e8e"/></linearGradient>
<linearGradient id="im_rim" x1="0" y1="0" x2="0" y2="1"><stop offset="0" stop-color="#a8a8a8"/><stop offset="0.15" stop-color="#c4c4c4"/><stop offset="0.38" stop-color="#e6e6e6"/><stop offset="0.55" stop-color="#bdbdbd"/><stop offset="0.7" stop-color="#8a8a8a"/><stop offset="0.82" stop-color="#a2a2a2"/><stop offset="0.92" stop-color="#d8d8d8"/><stop offset="1" stop-color="#b8b8b8"/></linearGradient>
<linearGradient id="im_thr" x1="0" y1="0" x2="0" y2="1"><stop offset="0" stop-color="#7c7c7c"/><stop offset="0.1" stop-color="#a2a2a2"/><stop offset="0.28" stop-color="#b8b8b8"/><stop offset="0.45" stop-color="#c0c0c0"/><stop offset="0.6" stop-color="#9c9c9c"/><stop offset="0.8" stop-color="#767676"/><stop offset="1" stop-color="#5a5a5a"/></linearGradient>
<linearGradient id="im_rim2" x1="0" y1="0" x2="0" y2="1"><stop offset="0" stop-color="#b0b0b0"/><stop offset="0.2" stop-color="#c6c6c6"/><stop offset="0.42" stop-color="#a8a8a8"/><stop offset="0.56" stop-color="#929292"/><stop offset="0.68" stop-color="#f2f2f2"/><stop offset="0.82" stop-color="#e8e8e8"/><stop offset="1" stop-color="#9a9a9a"/></linearGradient>
<linearGradient id="im_n2" x1="0" y1="0" x2="0" y2="1"><stop offset="0" stop-color="#8e8e8e"/><stop offset="0.12" stop-color="#a9a9a9"/><stop offset="0.35" stop-color="#c4c4c4"/><stop offset="0.5" stop-color="#f2f2f2"/><stop offset="0.75" stop-color="#fafafa"/><stop offset="0.9" stop-color="#c9c9c9"/><stop offset="1" stop-color="#8f8f8f"/></linearGradient>
<linearGradient id="im_thd" x1="0" y1="0" x2="0" y2="1"><stop offset="0" stop-color="#555"/><stop offset="0.15" stop-color="#747474"/><stop offset="0.45" stop-color="#808080"/><stop offset="0.7" stop-color="#5c5c5c"/><stop offset="1" stop-color="#3e3e3e"/></linearGradient>
<linearGradient id="im_blk" x1="0" y1="0" x2="0" y2="1"><stop offset="0" stop-color="#1b1b1b"/><stop offset="0.2" stop-color="#2d2d2d"/><stop offset="0.45" stop-color="#363636"/><stop offset="0.7" stop-color="#262626"/><stop offset="1" stop-color="#161616"/></linearGradient>
<linearGradient id="im_blk2" x1="0" y1="0" x2="0" y2="1"><stop offset="0" stop-color="#242424"/><stop offset="0.3" stop-color="#3a3a3a"/><stop offset="0.6" stop-color="#2e2e2e"/><stop offset="1" stop-color="#1a1a1a"/></linearGradient>
<linearGradient id="sm_a" x1="0" y1="0" x2="0" y2="1"><stop offset="0" stop-color="#8d8d8d"/><stop offset="0.08" stop-color="#b9b9b9"/><stop offset="0.25" stop-color="#e8e8e8"/><stop offset="0.42" stop-color="#f6f6f6"/><stop offset="0.55" stop-color="#bdbdbd"/><stop offset="0.7" stop-color="#8b8b8b"/><stop offset="0.85" stop-color="#a6a6a6"/><stop offset="1" stop-color="#6f6f6f"/></linearGradient>
<linearGradient id="sm_thr" x1="0" y1="0" x2="0" y2="1"><stop offset="0" stop-color="#666"/><stop offset="0.1" stop-color="#a0a0a0"/><stop offset="0.25" stop-color="#d0d0d0"/><stop offset="0.42" stop-color="#a8a8a8"/><stop offset="0.65" stop-color="#808080"/><stop offset="0.85" stop-color="#666"/><stop offset="1" stop-color="#444"/></linearGradient>
<linearGradient id="sm_thd" x1="0" y1="0" x2="0" y2="1"><stop offset="0" stop-color="#3c3c3c"/><stop offset="0.2" stop-color="#666"/><stop offset="0.4" stop-color="#727272"/><stop offset="0.7" stop-color="#484848"/><stop offset="1" stop-color="#2c2c2c"/></linearGradient>
<linearGradient id="sm_cface" x1="0" y1="0" x2="0" y2="1"><stop offset="0" stop-color="#8c8c8c"/><stop offset="0.3" stop-color="#a4a4a4"/><stop offset="0.6" stop-color="#bcbcbc"/><stop offset="0.8" stop-color="#d8d8d8"/><stop offset="1" stop-color="#9a9a9a"/></linearGradient>
<linearGradient id="sm_n" x1="0" y1="0" x2="0" y2="1"><stop offset="0" stop-color="#9a9a9a"/><stop offset="0.1" stop-color="#c9c9c9"/><stop offset="0.3" stop-color="#f2f2f2"/><stop offset="0.55" stop-color="#fafafa"/><stop offset="0.75" stop-color="#c5c5c5"/><stop offset="0.9" stop-color="#9a9a9a"/><stop offset="1" stop-color="#787878"/></linearGradient>
<linearGradient id="sm_h" x1="0" y1="0" x2="0" y2="1"><stop offset="0" stop-color="#a5a5a5"/><stop offset="0.12" stop-color="#c6c6c6"/><stop offset="0.35" stop-color="#ededed"/><stop offset="0.6" stop-color="#f7f7f7"/><stop offset="0.85" stop-color="#dcdcdc"/><stop offset="1" stop-color="#a8a8a8"/></linearGradient>
<linearGradient id="sm_face" x1="0" y1="0" x2="0" y2="1"><stop offset="0" stop-color="#d8d8d8"/><stop offset="0.5" stop-color="#c2c2c2"/><stop offset="1" stop-color="#8c8c8c"/></linearGradient>
<filter id="iblur" x="-5%" y="-5%" width="110%" height="110%"><feGaussianBlur stdDeviation="0.5"/></filter>
</defs>
<rect x="349.5" y="108" width="157.5" height="134" fill="#fdfdfc"/>
<g transform="translate(375.5 210.9) rotate(-28.5)" filter="url(#iblur)">
<g transform="translate(0 -1.6)"><path d="M122.79 -24.65 L125.88 -22.10 A13.92 22.10 0 0 1 125.88 22.10 L122.79 24.65 A15.53 24.65 0 0 1 122.79 -24.65 Z" fill="url(#im_thr)" /></g>
<g transform="translate(0 -1.6)"><path d="M119.36 -26.01 L122.79 -22.95 A14.46 22.95 0 0 1 122.79 22.95 L119.36 26.01 A16.39 26.01 0 0 1 119.36 -26.01 Z" fill="url(#im_thd)" /></g>
<g transform="translate(0 -1.6)"><path d="M117.58 -26.01 L119.36 -26.01 A16.39 26.01 0 0 1 119.36 26.01 L117.58 26.01 A16.39 26.01 0 0 1 117.58 -26.01 Z" fill="url(#im_thr)" /></g>
<g transform="translate(0 -1.6)"><path d="M114.15 -26.01 L117.58 -22.95 A14.46 22.95 0 0 1 117.58 22.95 L114.15 26.01 A16.39 26.01 0 0 1 114.15 -26.01 Z" fill="url(#im_thd)" /></g>
<g transform="translate(0 -1.6)"><path d="M112.37 -26.01 L114.15 -26.01 A16.39 26.01 0 0 1 114.15 26.01 L112.37 26.01 A16.39 26.01 0 0 1 112.37 -26.01 Z" fill="url(#im_thr)" /></g>
<g transform="translate(0 -1.6)"><path d="M108.94 -26.01 L112.37 -22.95 A14.46 22.95 0 0 1 112.37 22.95 L108.94 26.01 A16.39 26.01 0 0 1 108.94 -26.01 Z" fill="url(#im_thd)" /></g>
<g transform="translate(0 -1.6)"><path d="M107.15 -26.01 L108.94 -26.01 A16.39 26.01 0 0 1 108.94 26.01 L107.15 26.01 A16.39 26.01 0 0 1 107.15 -26.01 Z" fill="url(#im_thr)" /></g>
<g transform="translate(0 -1.6)"><path d="M103.72 -26.01 L107.15 -22.95 A14.46 22.95 0 0 1 107.15 22.95 L103.72 26.01 A16.39 26.01 0 0 1 103.72 -26.01 Z" fill="url(#im_thd)" /></g>
<g transform="translate(0 -1.6)"><path d="M101.94 -26.01 L103.72 -26.01 A16.39 26.01 0 0 1 103.72 26.01 L101.94 26.01 A16.39 26.01 0 0 1 101.94 -26.01 Z" fill="url(#im_thr)" /></g>
<g transform="translate(0 -1.6)"><path d="M98.51 -26.01 L101.94 -22.95 A14.46 22.95 0 0 1 101.94 22.95 L98.51 26.01 A16.39 26.01 0 0 1 98.51 -26.01 Z" fill="url(#im_thd)" /></g>
<g transform="translate(0 -1.6)"><path d="M96.73 -26.01 L98.51 -26.01 A16.39 26.01 0 0 1 98.51 26.01 L96.73 26.01 A16.39 26.01 0 0 1 96.73 -26.01 Z" fill="url(#im_thr)" /></g>
<g transform="translate(0 -1.6)"><path d="M95.35 -19.97 L96.73 -25.75 A16.23 25.75 0 0 1 96.73 25.75 L95.35 19.97 A12.58 19.97 0 0 1 95.35 -19.97 Z" fill="url(#im_thd)" /></g>
<path d="M87.81 -19.97 L95.35 -19.97 A12.58 19.97 0 0 1 95.35 19.97 L87.81 19.97 A12.58 19.97 0 0 1 87.81 -19.97 Z" fill="url(#im_n2)" />
<path d="M83.01 -20.82 L87.81 -19.97 A12.58 19.97 0 0 1 87.81 19.97 L83.01 20.82 A13.12 20.82 0 0 1 83.01 -20.82 Z" fill="url(#im_n2)" />
<path d="M78.20 -20.82 L83.01 -20.82 A13.12 20.82 0 0 1 83.01 20.82 L78.20 20.82 A13.12 20.82 0 0 1 78.20 -20.82 Z" fill="url(#im_n2)" />
<g transform="translate(0 -1)"><path d="M75.46 -26.35 L78.20 -26.35 A16.60 26.35 0 0 1 78.20 26.35 L75.46 26.35 A16.60 26.35 0 0 1 75.46 -26.35 Z" fill="#3a3a3a" /></g>
<g transform="translate(0 -1.5)"><path d="M69.97 -31.45 L75.46 -31.45 A19.81 31.45 0 0 1 75.46 31.45 L69.97 31.45 A19.81 31.45 0 0 1 69.97 -31.45 Z" fill="#1d1d1d" /></g>
<g transform="translate(0 -1.5)"><path d="M54.19 -33.57 L69.97 -33.57 A21.15 33.57 0 0 1 69.97 33.57 L54.19 33.57 A21.15 33.57 0 0 1 54.19 -33.57 Z" fill="url(#im_blk)" /><ellipse cx="54.19" cy="0" rx="21.15" ry="33.57" fill="#2b2b2b"/></g>
<path d="M46.65 -21.68 L54.19 -31.45 A19.81 31.45 0 0 1 54.19 31.45 L46.65 21.68 A13.66 21.68 0 0 1 46.65 -21.68 Z" fill="url(#im_blk2)" />
<path d="M41.98 -20.91 L46.65 -21.68 A13.66 21.68 0 0 1 46.65 21.68 L41.98 20.91 A13.17 20.91 0 0 1 41.98 -20.91 Z" fill="url(#im_blk)" /><ellipse cx="41.98" cy="0" rx="13.17" ry="20.91" fill="#222"/>
<path d="M12.01 -20.66 L43.22 -20.66 A13.01 20.66 0 0 1 43.22 20.66 L12.01 20.66 A13.01 20.66 0 0 1 12.01 -20.66 Z" fill="url(#im_a)" />
<path d="M9.26 -28.47 L12.01 -21.25 A13.39 21.25 0 0 1 12.01 21.25 L9.26 28.47 A17.94 28.47 0 0 1 9.26 -28.47 Z" fill="#8e8e8e" />
<path d="M4.80 -28.47 L9.26 -28.47 A17.94 28.47 0 0 1 9.26 28.47 L4.80 28.47 A17.94 28.47 0 0 1 4.80 -28.47 Z" fill="url(#im_rim2)" />
<path d="M0.00 -23.20 L4.80 -28.47 A17.94 28.47 0 0 1 4.80 28.47 L0.00 23.20 A14.62 23.20 0 0 1 0.00 -23.20 Z" fill="url(#im_rim)" /><ellipse cx="0.00" cy="0" rx="14.62" ry="23.20" fill="#c9c9c9"/>
<ellipse cx="0" cy="0" rx="13.98" ry="22.19" fill="#1d1d1d"/><ellipse cx="0.6" cy="-0.3" rx="6.96" ry="11.05" fill="#a2a2a2"/><ellipse cx="2.6" cy="0.2" rx="3.48" ry="7.96" fill="#5a5a5a"/><ellipse cx="-1.6" cy="4.6" rx="2.23" ry="3.31" fill="#f4f4f4" opacity="0.9"/>
</g>
<polygon points="441.8,180.6 454.3,175 455.1,203.4 443.4,209.6" fill="#3d3d3d" opacity="0.85" filter="url(#iblur)"/>
<polygon points="454.6,176 459.5,181 459.8,198 455.1,203" fill="#2f2f2f" opacity="0.8" filter="url(#iblur)"/>
<g transform="translate(412.2 389.5) rotate(28) scale(-1 1)" filter="url(#iblur)">
<g transform="translate(0 -1.5)"><path d="M101.00 -24.60 L105.00 -19.00 A12.54 19.00 0 0 1 105.00 19.00 L101.00 24.60 A16.24 24.60 0 0 1 101.00 -24.60 Z" fill="url(#sm_h)" /></g>
<g transform="translate(0 -1.5)"><path d="M96.00 -24.60 L101.00 -24.60 A16.24 24.60 0 0 1 101.00 24.60 L96.00 24.60 A16.24 24.60 0 0 1 96.00 -24.60 Z" fill="url(#sm_h)" /><ellipse cx="96.00" cy="0" rx="16.24" ry="24.60" fill="#9e9e9e"/></g>
<g transform="translate(0 -1.5)"><path d="M93.00 -17.90 L96.00 -24.60 A16.24 24.60 0 0 1 96.00 24.60 L93.00 17.90 A11.81 17.90 0 0 1 93.00 -17.90 Z" fill="#8f8f8f" /><ellipse cx="93.00" cy="0" rx="11.81" ry="17.90" fill="#a6a6a6"/></g>
<g transform="translate(0 -0.5)"><path d="M75.50 -17.90 L93.00 -17.90 A11.81 17.90 0 0 1 93.00 17.90 L75.50 17.90 A11.81 17.90 0 0 1 75.50 -17.90 Z" fill="url(#sm_a)" /></g>
<g transform="translate(0 0.3)"><path d="M66.00 -26.50 L75.50 -18.40 A12.14 18.40 0 0 1 75.50 18.40 L66.00 26.50 A17.49 26.50 0 0 1 66.00 -26.50 Z" fill="url(#im_blk2)" /></g>
<g transform="translate(0 0.2)"><path d="M51.50 -28.60 L66.00 -28.60 A18.88 28.60 0 0 1 66.00 28.60 L51.50 28.60 A18.88 28.60 0 0 1 51.50 -28.60 Z" fill="url(#im_blk)" /><ellipse cx="51.50" cy="0" rx="18.88" ry="28.60" fill="#2c2c2c"/></g>
<g transform="translate(0 0.2)"><path d="M47.50 -26.80 L51.50 -26.80 A17.69 26.80 0 0 1 51.50 26.80 L47.50 26.80 A17.69 26.80 0 0 1 47.50 -26.80 Z" fill="url(#sm_a)" /></g>
<g transform="translate(0 0.2)"><path d="M46.00 -25.20 L47.50 -26.80 A17.69 26.80 0 0 1 47.50 26.80 L46.00 25.20 A16.63 25.20 0 0 1 46.00 -25.20 Z" fill="url(#sm_a)" /><ellipse cx="46.00" cy="0" rx="16.63" ry="25.20" fill="url(#sm_cface)"/></g>
<path d="M36.50 -17.60 L46.00 -17.60 A11.62 17.60 0 0 1 46.00 17.60 L36.50 17.60 A11.62 17.60 0 0 1 36.50 -17.60 Z" fill="url(#sm_n)" /><ellipse cx="36.50" cy="0" rx="11.62" ry="17.60" fill="#dedede"/>
<path d="M28.55 -15.00 L36.50 -15.00 A9.90 15.00 0 0 1 36.50 15.00 L28.55 15.00 A9.90 15.00 0 0 1 28.55 -15.00 Z" fill="url(#sm_n)" />
<path d="M26.20 -18.55 L28.55 -16.55 A10.93 16.55 0 0 1 28.55 16.55 L26.20 18.55 A12.25 18.55 0 0 1 26.20 -18.55 Z" fill="url(#sm_thd)" />
<path d="M24.90 -18.55 L26.20 -18.55 A12.25 18.55 0 0 1 26.20 18.55 L24.90 18.55 A12.25 18.55 0 0 1 24.90 -18.55 Z" fill="url(#sm_thr)" />
<path d="M22.55 -18.74 L24.90 -16.74 A11.05 16.74 0 0 1 24.90 16.74 L22.55 18.74 A12.37 18.74 0 0 1 22.55 -18.74 Z" fill="url(#sm_thd)" />
<path d="M21.25 -18.74 L22.55 -18.74 A12.37 18.74 0 0 1 22.55 18.74 L21.25 18.74 A12.37 18.74 0 0 1 21.25 -18.74 Z" fill="url(#sm_thr)" />
<path d="M18.90 -18.92 L21.25 -16.92 A11.17 16.92 0 0 1 21.25 16.92 L18.90 18.92 A12.49 18.92 0 0 1 18.90 -18.92 Z" fill="url(#sm_thd)" />
<path d="M17.60 -18.92 L18.90 -18.92 A12.49 18.92 0 0 1 18.90 18.92 L17.60 18.92 A12.49 18.92 0 0 1 17.60 -18.92 Z" fill="url(#sm_thr)" />
<path d="M15.25 -19.10 L17.60 -17.10 A11.29 17.10 0 0 1 17.60 17.10 L15.25 19.10 A12.61 19.10 0 0 1 15.25 -19.10 Z" fill="url(#sm_thd)" />
<path d="M13.95 -19.10 L15.25 -19.10 A12.61 19.10 0 0 1 15.25 19.10 L13.95 19.10 A12.61 19.10 0 0 1 13.95 -19.10 Z" fill="url(#sm_thr)" />
<path d="M11.60 -19.29 L13.95 -17.29 A11.41 17.29 0 0 1 13.95 17.29 L11.60 19.29 A12.73 19.29 0 0 1 11.60 -19.29 Z" fill="url(#sm_thd)" />
<path d="M10.30 -19.29 L11.60 -19.29 A12.73 19.29 0 0 1 11.60 19.29 L10.30 19.29 A12.73 19.29 0 0 1 10.30 -19.29 Z" fill="url(#sm_thr)" />
<path d="M7.95 -19.47 L10.30 -17.47 A11.53 17.47 0 0 1 10.30 17.47 L7.95 19.47 A12.85 19.47 0 0 1 7.95 -19.47 Z" fill="url(#sm_thd)" />
<path d="M6.65 -19.47 L7.95 -19.47 A12.85 19.47 0 0 1 7.95 19.47 L6.65 19.47 A12.85 19.47 0 0 1 6.65 -19.47 Z" fill="url(#sm_thr)" />
<path d="M4.30 -19.65 L6.65 -17.65 A11.65 17.65 0 0 1 6.65 17.65 L4.30 19.65 A12.97 19.65 0 0 1 4.30 -19.65 Z" fill="url(#sm_thd)" />
<path d="M3.00 -19.65 L4.30 -19.65 A12.97 19.65 0 0 1 4.30 19.65 L3.00 19.65 A12.97 19.65 0 0 1 3.00 -19.65 Z" fill="url(#sm_thr)" />
<path d="M0.00 -16.20 L3.00 -19.40 A12.80 19.40 0 0 1 3.00 19.40 L0.00 16.20 A10.69 16.20 0 0 1 0.00 -16.20 Z" fill="url(#sm_face)" /><ellipse cx="0.00" cy="0" rx="10.69" ry="16.20" fill="#c4c4c4"/>
<ellipse cx="0" cy="0" rx="9.6" ry="13.8" fill="#1b1b1b"/><ellipse cx="-1.2" cy="0.6" rx="5.4" ry="7.8" fill="#6a6a6a"/><ellipse cx="-2.4" cy="-1.8" rx="2.4" ry="4" fill="#cfcfcf" opacity="0.85"/><ellipse cx="0.8" cy="3" rx="3" ry="4" fill="#1f1f1f" opacity="0.9"/>
</g>
<g transform="translate(547.2 389.5) rotate(28) scale(-1 1)" filter="url(#iblur)">
<g transform="translate(0 -1.5)"><path d="M101.00 -24.60 L105.00 -19.00 A12.54 19.00 0 0 1 105.00 19.00 L101.00 24.60 A16.24 24.60 0 0 1 101.00 -24.60 Z" fill="url(#sm_h)" /></g>
<g transform="translate(0 -1.5)"><path d="M96.00 -24.60 L101.00 -24.60 A16.24 24.60 0 0 1 101.00 24.60 L96.00 24.60 A16.24 24.60 0 0 1 96.00 -24.60 Z" fill="url(#sm_h)" /><ellipse cx="96.00" cy="0" rx="16.24" ry="24.60" fill="#9e9e9e"/></g>
<g transform="translate(0 -1.5)"><path d="M93.00 -17.90 L96.00 -24.60 A16.24 24.60 0 0 1 96.00 24.60 L93.00 17.90 A11.81 17.90 0 0 1 93.00 -17.90 Z" fill="#8f8f8f" /><ellipse cx="93.00" cy="0" rx="11.81" ry="17.90" fill="#a6a6a6"/></g>
<g transform="translate(0 -0.5)"><path d="M75.50 -17.90 L93.00 -17.90 A11.81 17.90 0 0 1 93.00 17.90 L75.50 17.90 A11.81 17.90 0 0 1 75.50 -17.90 Z" fill="url(#sm_a)" /></g>
<g transform="translate(0 0.3)"><path d="M66.00 -26.50 L75.50 -18.40 A12.14 18.40 0 0 1 75.50 18.40 L66.00 26.50 A17.49 26.50 0 0 1 66.00 -26.50 Z" fill="url(#im_blk2)" /></g>
<g transform="translate(0 0.2)"><path d="M51.50 -28.60 L66.00 -28.60 A18.88 28.60 0 0 1 66.00 28.60 L51.50 28.60 A18.88 28.60 0 0 1 51.50 -28.60 Z" fill="url(#im_blk)" /><ellipse cx="51.50" cy="0" rx="18.88" ry="28.60" fill="#2c2c2c"/></g>
<g transform="translate(0 0.2)"><path d="M47.50 -26.80 L51.50 -26.80 A17.69 26.80 0 0 1 51.50 26.80 L47.50 26.80 A17.69 26.80 0 0 1 47.50 -26.80 Z" fill="url(#sm_a)" /></g>
<g transform="translate(0 0.2)"><path d="M46.00 -25.20 L47.50 -26.80 A17.69 26.80 0 0 1 47.50 26.80 L46.00 25.20 A16.63 25.20 0 0 1 46.00 -25.20 Z" fill="url(#sm_a)" /><ellipse cx="46.00" cy="0" rx="16.63" ry="25.20" fill="url(#sm_cface)"/></g>
<path d="M43.50 -22.50 L46.00 -22.50 A14.85 22.50 0 0 1 46.00 22.50 L43.50 22.50 A14.85 22.50 0 0 1 43.50 -22.50 Z" fill="#151515" /><ellipse cx="43.50" cy="0" rx="14.85" ry="22.50" fill="#222"/>
<path d="M36.50 -17.60 L46.00 -17.60 A11.62 17.60 0 0 1 46.00 17.60 L36.50 17.60 A11.62 17.60 0 0 1 36.50 -17.60 Z" fill="url(#sm_n)" /><ellipse cx="36.50" cy="0" rx="11.62" ry="17.60" fill="#dedede"/>
<path d="M28.55 -15.00 L36.50 -15.00 A9.90 15.00 0 0 1 36.50 15.00 L28.55 15.00 A9.90 15.00 0 0 1 28.55 -15.00 Z" fill="url(#sm_n)" />
<path d="M26.20 -18.55 L28.55 -16.55 A10.93 16.55 0 0 1 28.55 16.55 L26.20 18.55 A12.25 18.55 0 0 1 26.20 -18.55 Z" fill="url(#sm_thd)" />
<path d="M24.90 -18.55 L26.20 -18.55 A12.25 18.55 0 0 1 26.20 18.55 L24.90 18.55 A12.25 18.55 0 0 1 24.90 -18.55 Z" fill="url(#sm_thr)" />
<path d="M22.55 -18.74 L24.90 -16.74 A11.05 16.74 0 0 1 24.90 16.74 L22.55 18.74 A12.37 18.74 0 0 1 22.55 -18.74 Z" fill="url(#sm_thd)" />
<path d="M21.25 -18.74 L22.55 -18.74 A12.37 18.74 0 0 1 22.55 18.74 L21.25 18.74 A12.37 18.74 0 0 1 21.25 -18.74 Z" fill="url(#sm_thr)" />
<path d="M18.90 -18.92 L21.25 -16.92 A11.17 16.92 0 0 1 21.25 16.92 L18.90 18.92 A12.49 18.92 0 0 1 18.90 -18.92 Z" fill="url(#sm_thd)" />
<path d="M17.60 -18.92 L18.90 -18.92 A12.49 18.92 0 0 1 18.90 18.92 L17.60 18.92 A12.49 18.92 0 0 1 17.60 -18.92 Z" fill="url(#sm_thr)" />
<path d="M15.25 -19.10 L17.60 -17.10 A11.29 17.10 0 0 1 17.60 17.10 L15.25 19.10 A12.61 19.10 0 0 1 15.25 -19.10 Z" fill="url(#sm_thd)" />
<path d="M13.95 -19.10 L15.25 -19.10 A12.61 19.10 0 0 1 15.25 19.10 L13.95 19.10 A12.61 19.10 0 0 1 13.95 -19.10 Z" fill="url(#sm_thr)" />
<path d="M11.60 -19.29 L13.95 -17.29 A11.41 17.29 0 0 1 13.95 17.29 L11.60 19.29 A12.73 19.29 0 0 1 11.60 -19.29 Z" fill="url(#sm_thd)" />
<path d="M10.30 -19.29 L11.60 -19.29 A12.73 19.29 0 0 1 11.60 19.29 L10.30 19.29 A12.73 19.29 0 0 1 10.30 -19.29 Z" fill="url(#sm_thr)" />
<path d="M7.95 -19.47 L10.30 -17.47 A11.53 17.47 0 0 1 10.30 17.47 L7.95 19.47 A12.85 19.47 0 0 1 7.95 -19.47 Z" fill="url(#sm_thd)" />
<path d="M6.65 -19.47 L7.95 -19.47 A12.85 19.47 0 0 1 7.95 19.47 L6.65 19.47 A12.85 19.47 0 0 1 6.65 -19.47 Z" fill="url(#sm_thr)" />
<path d="M4.30 -19.65 L6.65 -17.65 A11.65 17.65 0 0 1 6.65 17.65 L4.30 19.65 A12.97 19.65 0 0 1 4.30 -19.65 Z" fill="url(#sm_thd)" />
<path d="M3.00 -19.65 L4.30 -19.65 A12.97 19.65 0 0 1 4.30 19.65 L3.00 19.65 A12.97 19.65 0 0 1 3.00 -19.65 Z" fill="url(#sm_thr)" />
<path d="M0.00 -16.20 L3.00 -19.40 A12.80 19.40 0 0 1 3.00 19.40 L0.00 16.20 A10.69 16.20 0 0 1 0.00 -16.20 Z" fill="url(#sm_face)" /><ellipse cx="0.00" cy="0" rx="10.69" ry="16.20" fill="#c4c4c4"/>
<ellipse cx="0" cy="0" rx="9.6" ry="13.8" fill="#1b1b1b"/><ellipse cx="-1.2" cy="0.6" rx="5.4" ry="7.8" fill="#6a6a6a"/><ellipse cx="-2.4" cy="-1.8" rx="2.4" ry="4" fill="#cfcfcf" opacity="0.85"/><ellipse cx="0.8" cy="3" rx="3" ry="4" fill="#1f1f1f" opacity="0.9"/>
</g>
</g>
</svg></body></html>
